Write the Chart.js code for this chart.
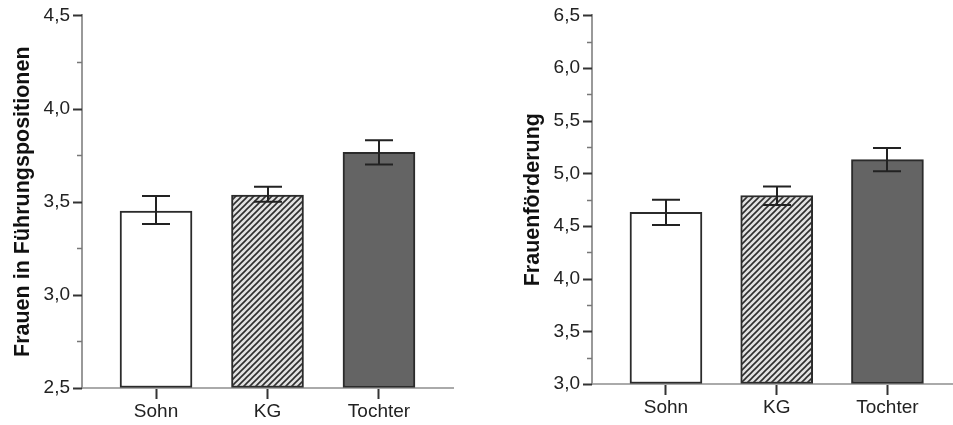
<!DOCTYPE html>
<html>
<head>
<meta charset="utf-8">
<script src="https://cdn.jsdelivr.net/npm/chart.js@4"></script>
<style>
    html, body { margin: 0; padding: 0; background: #fff; }
    #wrap { position: relative; width: 953px; height: 425px; }
    #fuehrung-chart { position: absolute; left: 0; top: 0; }
    #foerder-chart { position: absolute; left: 470px; top: 0; }
</style>
</head>
<body>
<div id="wrap">
    <canvas id="fuehrung-chart" width="470" height="425"></canvas>
    <canvas id="foerder-chart" width="483" height="425"></canvas>
</div>
<script>
// Data
let categories = ['Sohn', 'KG', 'Tochter'];

let fuehrungMeans = [3.45, 3.535, 3.765];
let fuehrungLow = [3.38, 3.50, 3.70];
let fuehrungHigh = [3.53, 3.58, 3.83];
let fuehrungRange = [2.5, 4.5];

let foerderMeans = [4.63, 4.79, 5.13];
let foerderLow = [4.51, 4.70, 5.02];
let foerderHigh = [4.75, 4.875, 5.24];
let foerderRange = [3.0, 6.5];

const fontFamily = "'Liberation Sans', Arial, sans-serif";

// hatched fill for the KG bar
function makeHatch() {
    const c = document.createElement('canvas');
    c.width = 6;
    c.height = 6;
    const g = c.getContext('2d');
    g.fillStyle = '#e2e2e2';
    g.fillRect(0, 0, 6, 6);
    g.strokeStyle = '#2e2e2e';
    g.lineWidth = 1.6;
    g.beginPath();
    g.moveTo(-1, 7); g.lineTo(7, -1);
    g.moveTo(-4, 4); g.lineTo(4, -4);
    g.moveTo(2, 10); g.lineTo(10, 2);
    g.stroke();
    return g.createPattern(c, 'repeat');
}
const hatch = makeHatch();

// error bars from the low/high arrays
const errorBarPlugin = {
    id: 'errorBars',
    afterDatasetsDraw(chart, args, opts) {
        const ctx = chart.ctx;
        const xs = chart.scales.x, ys = chart.scales.y;
        ctx.save();
        ctx.strokeStyle = '#222';
        ctx.lineWidth = 2;
        opts.low.forEach((lo, i) => {
            const x = Math.round(xs.getPixelForValue(i));
            const y1 = ys.getPixelForValue(lo);
            const y2 = ys.getPixelForValue(opts.high[i]);
            ctx.beginPath();
            ctx.moveTo(x, y1); ctx.lineTo(x, y2);
            ctx.moveTo(x - 14, y1); ctx.lineTo(x + 14, y1);
            ctx.moveTo(x - 14, y2); ctx.lineTo(x + 14, y2);
            ctx.stroke();
        });
        ctx.restore();
    }
};

// major / minor tick marks on the value axis
const tickMarkPlugin = {
    id: 'tickMarks',
    afterDraw(chart) {
        const ctx = chart.ctx;
        const ys = chart.scales.y;
        ctx.save();
        ys.ticks.forEach(t => {
            const major = Math.abs(t.value * 2 - Math.round(t.value * 2)) < 1e-6;
            const y = Math.round(ys.getPixelForValue(t.value)) + 0.5;
            ctx.strokeStyle = major ? '#333' : '#777';
            ctx.lineWidth = major ? 2 : 1.5;
            ctx.beginPath();
            ctx.moveTo(ys.right - (major ? 9 : 5), y);
            ctx.lineTo(ys.right, y);
            ctx.stroke();
        });
        ctx.restore();
    }
};

function buildChart(canvasId, means, low, high, range, title, box) {
    return new Chart(document.getElementById(canvasId).getContext('2d'), {
        type: 'bar',
        data: {
            datasets: [{
                data: means.map((v, i) => ({ x: i, y: v })),
                backgroundColor: ['#ffffff', hatch, '#646464'],
                borderColor: '#2b2b2b',
                borderWidth: 2,
                borderSkipped: false,
                barThickness: 72,
                base: range[0]
            }]
        },
        options: {
            responsive: false,
            animation: false,
            layout: { padding: box.padding },
            scales: {
                x: {
                    type: 'linear',
                    offset: false,
                    min: box.xMin,
                    max: box.xMax,
                    afterBuildTicks: s => { s.ticks = categories.map((c, i) => ({ value: i })); },
                    afterFit: s => { s.height = box.xHeight; },
                    ticks: {
                        callback: v => categories[v],
                        color: '#222',
                        font: { family: fontFamily, size: 19 },
                        padding: 1,
                        autoSkip: false,
                        maxRotation: 0
                    },
                    grid: { offset: false, drawOnChartArea: false, tickLength: 11, tickColor: '#333', tickWidth: 2 },
                    border: { color: '#aaa', width: 2 }
                },
                y: {
                    min: range[0],
                    max: range[1],
                    afterFit: s => { s.width = 82; },
                    ticks: {
                        stepSize: 0.25,
                        autoSkip: false,
                        padding: 4,
                        color: '#222',
                        font: { family: fontFamily, size: 19 },
                        callback: v => Math.abs(v * 2 - Math.round(v * 2)) < 1e-6 ? v.toFixed(1).replace('.', ',') : ''
                    },
                    grid: { drawOnChartArea: false, tickLength: 8, tickColor: 'rgba(0,0,0,0)' },
                    border: { color: '#999', width: 2 },
                    title: {
                        display: true,
                        text: title,
                        color: '#111',
                        font: { family: fontFamily, size: 21.5, weight: 'bold' },
                        padding: { top: 10, bottom: 0 }
                    }
                }
            },
            plugins: {
                legend: { display: false },
                tooltip: { enabled: false },
                errorBars: { low: low, high: high }
            }
        },
        plugins: [errorBarPlugin, tickMarkPlugin]
    });
}

const fuehrungChart = buildChart('fuehrung-chart', fuehrungMeans, fuehrungLow, fuehrungHigh, fuehrungRange,
    'Frauen in Führungspositionen',
    { padding: { left: 0, top: 14, right: 17, bottom: 0 }, xHeight: 37, xMin: -0.664, xMax: 2.664 });

const foerderChart = buildChart('foerder-chart', foerderMeans, foerderLow, foerderHigh, foerderRange,
    'Frauenförderung',
    { padding: { left: 40, top: 14, right: 0, bottom: 0 }, xHeight: 41, xMin: -0.668, xMax: 2.592 });
</script>
</body>
</html>
